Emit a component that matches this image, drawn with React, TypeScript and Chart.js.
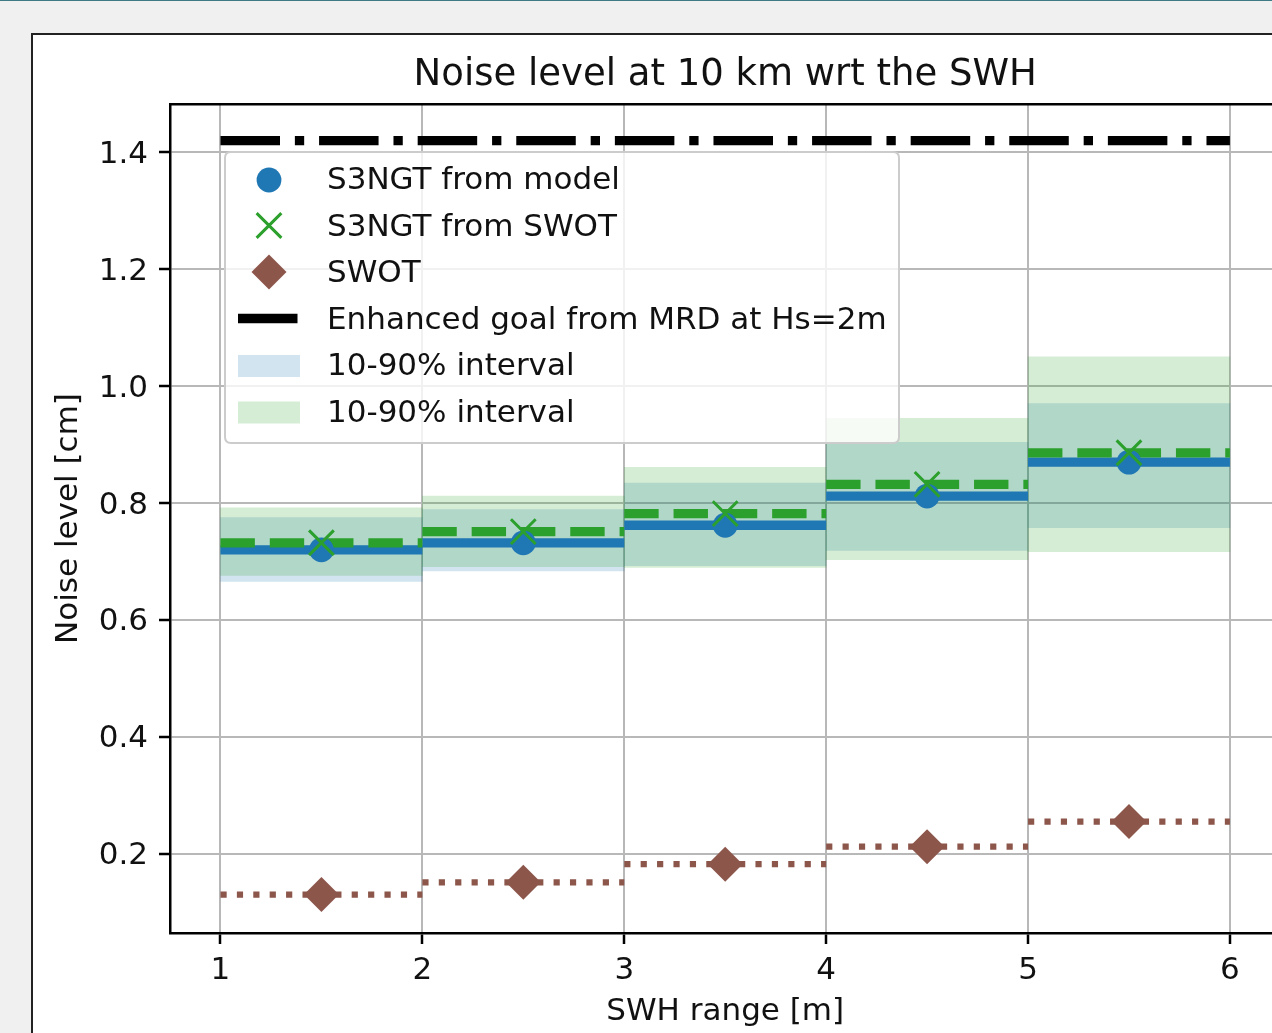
import React, { useEffect, useRef } from 'react';
import { Chart, registerables } from 'chart.js';

Chart.register(...registerables);

// ---------- data ----------
const binEdges = [1, 2, 3, 4, 5, 6];
const s3ngtModel = [0.72, 0.732, 0.762, 0.812, 0.87];
const s3ngtFromSwot = [0.732, 0.751, 0.782, 0.832, 0.886];
const swotNoise = [0.13, 0.151, 0.182, 0.212, 0.255];
const mrdGoal = 1.42;
const modelP10 = [0.666, 0.684, 0.693, 0.719, 0.758];
const modelP90 = [0.775, 0.789, 0.834, 0.904, 0.97];
const swotP10 = [0.676, 0.691, 0.69, 0.703, 0.717];
const swotP90 = [0.792, 0.812, 0.861, 0.945, 1.05];
const xTicks = [1, 2, 3, 4, 5, 6];
const yTicks = [0.2, 0.4, 0.6, 0.8, 1.0, 1.2, 1.4];
const legendLabels = [
  'S3NGT from model',
  'S3NGT from SWOT',
  'SWOT',
  'Enhanced goal from MRD at Hs=2m',
  '10-90% interval',
  '10-90% interval',
];

// ---------- styles ----------
const FONT = 'DejaVu Sans';
const TEXT = '#111111';
const BLUE = '#1f77b4';
const GREEN = '#2ca02c';
const BROWN = '#8c564b';
const BLUE_FILL = 'rgba(31,119,180,0.2)';
const GREEN_FILL = 'rgba(44,160,44,0.2)';
const LW = 9.3;
const DASH = [34.4, 14.9];
const DASHDOT = [59.5, 14.9, 9.3, 14.9];
const DOT = [6.2, 10.2];
const R_CIRCLE = 12.4;
const R_DIAMOND = 17.5;
const R_CROSS = 17.5;

const mids = binEdges.slice(0, -1).map((e, i) => (e + binEdges[i + 1]) / 2);

function stepData(vals: number[]) {
  const out: { x: number; y: number | null }[] = [];
  vals.forEach((v, i) => {
    out.push({ x: binEdges[i], y: v });
    out.push({ x: binEdges[i + 1], y: v });
    out.push({ x: binEdges[i + 1], y: null });
  });
  return out;
}
const midData = (vals: number[]) => vals.map((v, i) => ({ x: mids[i], y: v }));
const bandData = (lo: number[], hi: number[]) => lo.map((l, i) => ({ x: mids[i], y: [l, hi[i]] }));

const legendPlugin = {
  id: 'mplLegend',
  afterDraw(chart: any) {
    const ctx: CanvasRenderingContext2D = chart.ctx;
    const ca = chart.chartArea;
    const x0 = ca.left + 55;
    const y0 = ca.top + 48;
    const w = 674;
    const h = 291;
    const r = 6;
    ctx.save();
    ctx.beginPath();
    ctx.moveTo(x0 + r, y0);
    ctx.lineTo(x0 + w - r, y0);
    ctx.quadraticCurveTo(x0 + w, y0, x0 + w, y0 + r);
    ctx.lineTo(x0 + w, y0 + h - r);
    ctx.quadraticCurveTo(x0 + w, y0 + h, x0 + w - r, y0 + h);
    ctx.lineTo(x0 + r, y0 + h);
    ctx.quadraticCurveTo(x0, y0 + h, x0, y0 + h - r);
    ctx.lineTo(x0, y0 + r);
    ctx.quadraticCurveTo(x0, y0, x0 + r, y0);
    ctx.closePath();
    ctx.fillStyle = 'rgba(255,255,255,0.8)';
    ctx.fill();
    ctx.strokeStyle = '#cccccc';
    ctx.lineWidth = 2;
    ctx.stroke();

    const hx0 = x0 + 13;
    const hx1 = x0 + 75;
    const hc = (hx0 + hx1) / 2;
    const textX = x0 + 102;
    const rowY = (i: number) => y0 + 27 + i * 46.5;

    // circle
    ctx.fillStyle = BLUE;
    ctx.beginPath();
    ctx.arc(hc, rowY(0) + 1, R_CIRCLE, 0, Math.PI * 2);
    ctx.fill();
    // cross
    const c = R_CROSS * Math.SQRT1_2;
    ctx.strokeStyle = GREEN;
    ctx.lineWidth = 3;
    ctx.beginPath();
    ctx.moveTo(hc - c, rowY(1) - c);
    ctx.lineTo(hc + c, rowY(1) + c);
    ctx.moveTo(hc - c, rowY(1) + c);
    ctx.lineTo(hc + c, rowY(1) - c);
    ctx.stroke();
    // diamond
    ctx.fillStyle = BROWN;
    ctx.beginPath();
    ctx.moveTo(hc - R_DIAMOND, rowY(2));
    ctx.lineTo(hc, rowY(2) - R_DIAMOND);
    ctx.lineTo(hc + R_DIAMOND, rowY(2));
    ctx.lineTo(hc, rowY(2) + R_DIAMOND);
    ctx.closePath();
    ctx.fill();
    // line
    ctx.strokeStyle = '#000';
    ctx.lineWidth = LW;
    ctx.setLineDash(DASHDOT);
    ctx.beginPath();
    ctx.moveTo(hx0, rowY(3));
    ctx.lineTo(hx1, rowY(3));
    ctx.stroke();
    ctx.setLineDash([]);
    // patches
    ctx.fillStyle = BLUE_FILL;
    ctx.fillRect(hx0, rowY(4) - 10, hx1 - hx0, 22);
    ctx.fillStyle = GREEN_FILL;
    ctx.fillRect(hx0, rowY(5) - 10, hx1 - hx0, 22);

    ctx.fillStyle = TEXT;
    ctx.font = `31px "${FONT}"`;
    ctx.textBaseline = 'middle';
    ctx.textAlign = 'left';
    legendLabels.forEach((t, i) => ctx.fillText(t, textX, rowY(i) + 2));
    ctx.restore();
  },
};

export default function App() {
  const ref = useRef<HTMLCanvasElement>(null);

  useEffect(() => {
    const gridOpts = {
      color: '#b8b8b8',
      lineWidth: 2,
      tickColor: '#000',
      tickWidth: 2.5,
      tickLength: 11,
      offset: false,
    };
    const borderOpts = { color: '#000', width: 2.5 };
    const chart = new Chart(ref.current as HTMLCanvasElement, {
      type: 'line',
      data: {
        datasets: [
          {
            type: 'bar',
            label: 'model band',
            data: bandData(modelP10, modelP90) as any,
            backgroundColor: BLUE_FILL,
            borderWidth: 0,
            barPercentage: 1,
            categoryPercentage: 1,
            grouped: false,
            order: 10,
          } as any,
          {
            type: 'bar',
            label: 'swot band',
            data: bandData(swotP10, swotP90) as any,
            backgroundColor: GREEN_FILL,
            borderWidth: 0,
            barPercentage: 1,
            categoryPercentage: 1,
            grouped: false,
            order: 9,
          } as any,
          {
            label: 'model line',
            data: stepData(s3ngtModel) as any,
            borderColor: BLUE,
            borderWidth: LW,
            pointRadius: 0,
            spanGaps: false,
            order: 8,
          },
          {
            label: 'swot-based line',
            data: stepData(s3ngtFromSwot) as any,
            borderColor: GREEN,
            borderWidth: LW,
            borderDash: DASH,
            pointRadius: 0,
            spanGaps: false,
            order: 7,
          },
          {
            label: 'swot line',
            data: stepData(swotNoise) as any,
            borderColor: BROWN,
            borderWidth: 6.2,
            borderDash: DOT,
            pointRadius: 0,
            spanGaps: false,
            order: 6,
          },
          {
            label: 'mrd',
            data: [
              { x: binEdges[0], y: mrdGoal },
              { x: binEdges[binEdges.length - 1], y: mrdGoal },
            ],
            borderColor: '#000',
            borderWidth: LW,
            borderDash: DASHDOT,
            pointRadius: 0,
            order: 5,
          },
          {
            label: legendLabels[0],
            data: midData(s3ngtModel),
            showLine: false,
            pointStyle: 'circle',
            pointRadius: R_CIRCLE,
            pointBackgroundColor: BLUE,
            pointBorderWidth: 0,
            order: 4,
          },
          {
            label: legendLabels[1],
            data: midData(s3ngtFromSwot),
            showLine: false,
            pointStyle: 'crossRot',
            pointRadius: R_CROSS,
            pointBorderColor: GREEN,
            pointBorderWidth: 3,
            order: 3,
          },
          {
            label: legendLabels[2],
            data: midData(swotNoise),
            showLine: false,
            pointStyle: 'rectRot',
            pointRadius: R_DIAMOND,
            pointBackgroundColor: BROWN,
            pointBorderWidth: 0,
            order: 2,
          },
        ],
      },
      options: {
        responsive: false,
        animation: false,
        events: [],
        layout: { padding: { left: 0, top: 0, right: 49.6, bottom: 0 } },
        plugins: {
          legend: { display: false },
          tooltip: { enabled: false },
          title: {
            display: true,
            text: 'Noise level at 10 km wrt the SWH',
            fullSize: false,
            color: TEXT,
            font: { family: FONT, size: 37, weight: 'normal', lineHeight: 1.2 },
            padding: { top: 52.8, bottom: 6.8 },
          },
        },
        scales: {
          x: {
            type: 'linear',
            position: 'bottom',
            min: 0.75,
            max: 6.25,
            offset: false,
            afterFit: (s: any) => {
              s.height = 100;
            },
            afterBuildTicks: (s: any) => {
              s.ticks = xTicks.map((v) => ({ value: v }));
            },
            ticks: {
              color: TEXT,
              font: { family: FONT, size: 31 },
              padding: 8.5,
              maxRotation: 0,
              autoSkip: false,
              callback: (v: any) => String(v),
            },
            grid: gridOpts,
            border: borderOpts,
            title: {
              display: true,
              text: 'SWH range [m]',
              color: TEXT,
              font: { family: FONT, size: 31, lineHeight: 1.2 },
              padding: { top: 0, bottom: 2.6 },
            },
          },
          xTop: {
            type: 'linear',
            position: 'top',
            min: 0.75,
            max: 6.25,
            grid: { display: false, drawTicks: false },
            ticks: { display: false },
            border: { display: true, color: '#000', width: 2.5 },
            afterFit: (s: any) => {
              s.height = 0;
            },
          },
          y: {
            type: 'linear',
            position: 'left',
            min: 0.0643,
            max: 1.4828,
            afterFit: (s: any) => {
              s.width = 170;
            },
            afterBuildTicks: (s: any) => {
              s.ticks = yTicks.map((v) => ({ value: v }));
            },
            ticks: {
              color: TEXT,
              font: { family: FONT, size: 31 },
              padding: 11,
              labelOffset: 2.5,
              callback: (v: any) => Number(v).toFixed(1),
            },
            grid: gridOpts,
            border: borderOpts,
            title: {
              display: true,
              text: 'Noise level [cm]',
              color: TEXT,
              font: { family: FONT, size: 31, lineHeight: 1.2 },
              padding: { top: 50.4, bottom: 0 },
            },
          },
        },
      } as any,
      plugins: [legendPlugin],
    });
    return () => chart.destroy();
  }, []);

  return (
    <div
      style={{
        position: 'fixed',
        left: 0,
        top: 0,
        width: 1272,
        height: 1033,
        background: '#f0f0f0',
        overflow: 'hidden',
      }}
    >
      <div style={{ position: 'absolute', left: 0, top: 0, width: '100%', height: 1, background: '#3c7b85' }} />
      <div
        style={{
          position: 'absolute',
          left: 31,
          top: 33,
          width: 1400,
          height: 1200,
          background: '#ffffff',
          borderLeft: '2px solid #222',
          borderTop: '2px solid #222',
        }}
      />
      <canvas
        ref={ref}
        width={1330}
        height={1033}
        style={{ position: 'absolute', left: 0, top: 0, width: 1330, height: 1033 }}
      />
    </div>
  );
}
